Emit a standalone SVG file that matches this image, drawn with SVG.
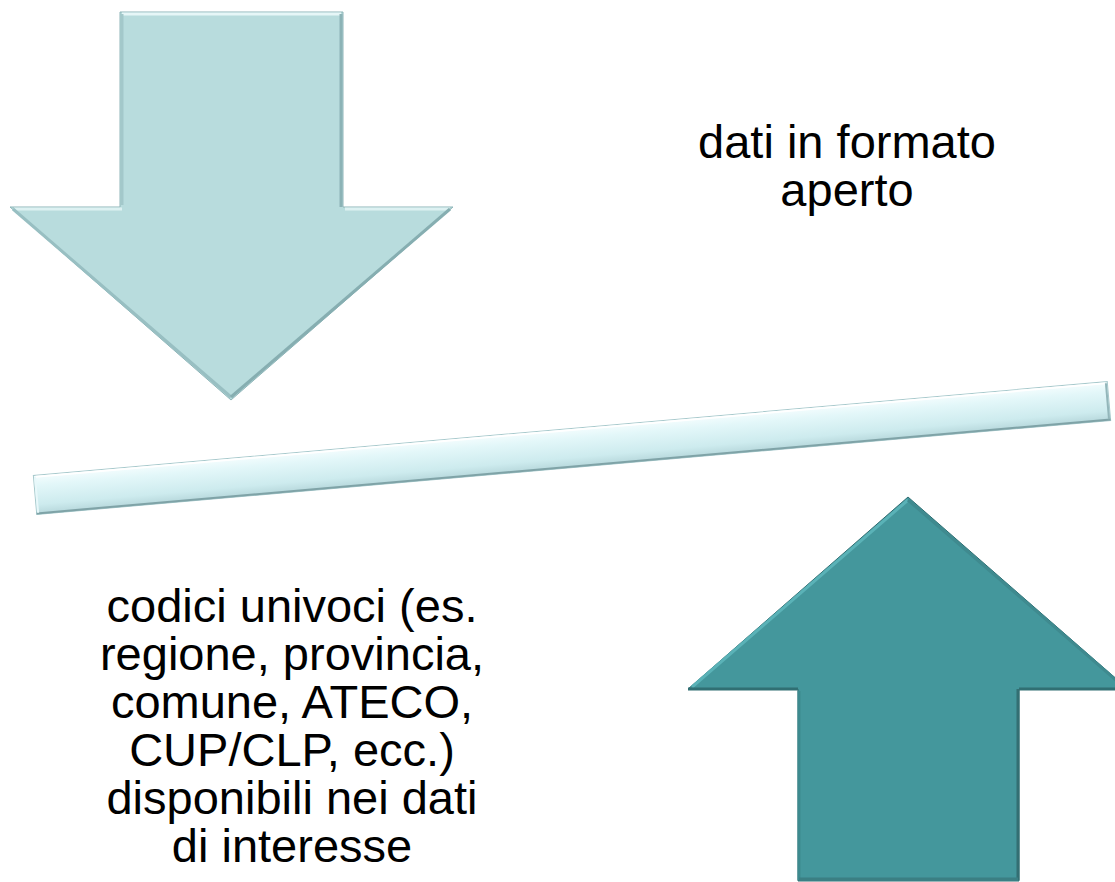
<svg xmlns="http://www.w3.org/2000/svg" width="1115" height="882" viewBox="0 0 1115 882">
<defs>
<style>
text{font-family:"Liberation Sans",Arial,sans-serif;font-size:47px;fill:#000;text-anchor:middle}
.hl{fill:none;stroke-width:3;stroke-linejoin:miter}
</style>
<linearGradient id="barG" x1="0" y1="0" x2="0" y2="1">
<stop offset="0" stop-color="#f4fdfe"/>
<stop offset="0.25" stop-color="#e3f7f9"/>
<stop offset="0.75" stop-color="#cdebee"/>
<stop offset="1" stop-color="#b6d7db"/>
</linearGradient>
</defs>
<rect width="1115" height="882" fill="#ffffff"/>

<g id="down-arrow">
<polygon points="120,12 343,12 343,207 453,207 231,400 10,207 120,207" fill="#b8dcdd" stroke="#8fb5b8" stroke-width="1"/>
<polyline class="hl" stroke="#e6f6f7" points="122,14 341,14"/>
<polyline class="hl" stroke="#ddf1f2" points="14,209 122,209"/>
<polyline class="hl" stroke="#ddf1f2" points="345,209 450,209"/>
<polyline class="hl" stroke="#8cb3b6" points="341,14 341,207"/>
<polyline class="hl" stroke="#a3c8ca" points="122,14 122,205"/>
<polyline class="hl" stroke="#98bfc2" points="13,209 231,397"/>
<polyline class="hl" stroke="#86aeb1" points="450,209 231,397"/>
</g>

<g id="bar">
<g transform="translate(572,448) rotate(-5)">
<rect x="-539" y="-19.5" width="1078" height="39" fill="url(#barG)" stroke="#a7c9cc" stroke-width="1"/>
<line x1="-537" y1="-18" x2="537" y2="-18" stroke="#ffffff" stroke-width="2"/>
<line x1="-539" y1="18.5" x2="539" y2="18.5" stroke="#7fa3a7" stroke-width="2"/>
<line x1="537.5" y1="-18" x2="537.5" y2="18" stroke="#93b6ba" stroke-width="2"/>
<line x1="-537.5" y1="-18" x2="-537.5" y2="18" stroke="#e8f8fa" stroke-width="2"/>
</g>
</g>

<g id="up-arrow">
<polygon points="908,497 1128,689 1019,689 1019,881 798,881 798,689 688,689" fill="#44979c" stroke="#2f6c70" stroke-width="1"/>
<polyline class="hl" stroke="#5ab2b7" points="692,687 908,500"/>
<polyline class="hl" stroke="#3f8a8f" points="908,500 1125,688"/>
<polyline class="hl" stroke="#306f73" points="688,689 798,689"/>
<polyline class="hl" stroke="#306f73" points="1019,689 1115,689"/>
<polyline class="hl" stroke="#336f73" points="1018,689 1018,880"/>
<polyline class="hl" stroke="#3d8a8f" points="799,691 799,880"/>
<polyline class="hl" stroke="#3b7f83" points="799,879 1018,879"/>
</g>

<g id="label-top">
<text x="847" y="158">dati in formato</text>
<text x="847" y="206">aperto</text>
</g>

<g id="label-bottom">
<text x="292" y="622">codici univoci (es.</text>
<text x="292" y="670">regione, provincia,</text>
<text x="292" y="718">comune, ATECO,</text>
<text x="292" y="766">CUP/CLP, ecc.)</text>
<text x="292" y="814">disponibili nei dati</text>
<text x="292" y="862">di interesse</text>
</g>
</svg>
